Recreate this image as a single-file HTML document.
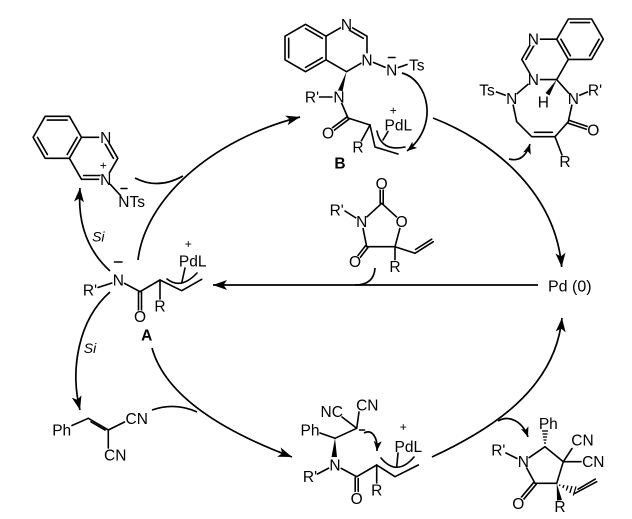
<!DOCTYPE html>
<html><head><meta charset="utf-8"><style>
html,body{margin:0;padding:0;background:#fff;}
svg{display:block;}
text{font-family:"Liberation Sans",Arial,sans-serif;font-size:15.5px;fill:#000;}
.p{font-size:12px;}
.b{font-weight:bold;}
.i{font-style:italic;font-size:14px;}
</style></head><body>
<svg width="632" height="519" viewBox="0 0 632 519" xmlns="http://www.w3.org/2000/svg">
<defs>
<marker id="a" markerUnits="userSpaceOnUse" markerWidth="16" markerHeight="12" refX="14" refY="5" orient="auto"><path d="M0,0 L14,5 L0,10 L3.5,5 Z" fill="#000" stroke="none"/></marker>
<marker id="s" markerUnits="userSpaceOnUse" markerWidth="12" markerHeight="10" refX="10" refY="4" orient="auto"><path d="M0,0 L10,4 L0,8 L2.5,4 Z" fill="#000" stroke="none"/></marker>
</defs>

<!-- bonds -->
<g stroke="#000" stroke-width="1.6" fill="none" stroke-linecap="round" stroke-linejoin="round">
<!-- B structure -->
<polygon points="305.5,24.3 326,36.2 326,59.8 305.5,71.7 285,59.8 285,36.2"/>
<polyline points="326,36.2 346.5,24.3 367,36.2 367,59.8 346.5,71.7 326,59.8"/>
<line x1="305.5" y1="28.6" x2="322.3" y2="38.3"/>
<line x1="322.3" y1="57.7" x2="305.5" y2="67.4"/>
<line x1="288.7" y1="57.7" x2="288.7" y2="38.3"/>
<line x1="346.5" y1="28.6" x2="363.3" y2="38.3"/>
<line x1="367" y1="59.8" x2="391.7" y2="70"/>
<line x1="397" y1="68" x2="407" y2="64.5"/>
<line x1="388.5" y1="57.5" x2="395" y2="57.5"/>
<line x1="319.5" y1="97" x2="333" y2="97"/>
<line x1="339" y1="97" x2="348" y2="118"/>
<line x1="347.1" y1="116.8" x2="327.1" y2="131.8"/>
<line x1="348.9" y1="119.2" x2="328.9" y2="134.2"/>
<line x1="348" y1="118" x2="370" y2="125"/>
<line x1="370" y1="125" x2="358" y2="147"/>
<polyline points="370,125 375,147 398,154"/>
<path d="M377,131 Q381,152 405,147"/>
<line x1="388" y1="131.5" x2="383" y2="140"/>

<!-- right medium ring product -->
<polygon points="556.7,39.2 568.35,19 591.65,19 603.3,39.2 591.65,59.4 568.35,59.4"/>
<line x1="570.4" y1="22.6" x2="589.6" y2="22.6"/>
<line x1="599.1" y1="39.2" x2="589.6" y2="55.8"/>
<line x1="570.4" y1="55.8" x2="560.9" y2="39.2"/>
<polyline points="556.7,39.2 533.4,39.2 521.75,59.4 533.4,79.6 556.7,79.6 568.35,59.4"/>
<line x1="535.5" y1="42.8" x2="525.9" y2="59.4"/>
<line x1="556.7" y1="79.6" x2="573.3" y2="98.3"/>
<line x1="579" y1="95.5" x2="587.5" y2="92"/>
<line x1="533.4" y1="79.6" x2="511.7" y2="98.3"/>
<line x1="496.5" y1="92" x2="506" y2="95.5"/>
<polyline points="511.7,98.3 516.7,121.7 531.7,136.7 555,136.7 568.3,121.7 573.3,98.3"/>
<line x1="534.5" y1="132.3" x2="552.5" y2="132.3"/>
<line x1="568.8" y1="120.3" x2="593.8" y2="128.6"/>
<line x1="567.8" y1="123.1" x2="592.8" y2="131.4"/>
<line x1="555" y1="136.7" x2="562" y2="155"/>

<!-- oxazolidinedione -->
<line x1="380.2" y1="184" x2="380.2" y2="203.3"/>
<line x1="383.2" y1="184" x2="383.2" y2="203.3"/>
<polyline points="361.7,221.7 381.7,203.3 401.7,221.7"/>
<polyline points="361.7,221.7 366.7,246.7 395,246.7 401.7,221.7"/>
<line x1="345" y1="211" x2="356" y2="218"/>
<line x1="367.9" y1="247.6" x2="356.2" y2="262.6"/>
<line x1="365.5" y1="245.8" x2="353.8" y2="260.8"/>
<line x1="395" y1="246.7" x2="395" y2="262"/>
<polyline points="395,246.7 415,253.3 433.3,241.7"/>
<line x1="415.5" y1="249.5" x2="431.7" y2="239.2"/>

<!-- A -->
<line x1="114.5" y1="262" x2="122" y2="262"/>
<line x1="98" y1="287.5" x2="112" y2="283"/>
<line x1="118.3" y1="280" x2="140" y2="291.7"/>
<line x1="138.5" y1="292" x2="138.5" y2="316"/>
<line x1="141.5" y1="292" x2="141.5" y2="316"/>
<line x1="140" y1="291.7" x2="160" y2="280"/>
<line x1="160" y1="280" x2="160" y2="302"/>
<polyline points="160,280 181.7,290.7 201.7,279.3"/>
<path d="M167,279 Q181,290 197,273"/>
<line x1="185" y1="268" x2="181.7" y2="283"/>

<!-- quinazolinium -->
<polygon points="33.1,137.3 45.2,116.3 69.4,116.3 81.5,137.3 69.4,158.3 45.2,158.3"/>
<line x1="47.3" y1="120.1" x2="67.2" y2="120.1"/>
<line x1="77.1" y1="137.3" x2="67.2" y2="154.5"/>
<line x1="47.4" y1="154.5" x2="37.5" y2="137.3"/>
<polyline points="81.5,137.3 105.7,137.3 117.8,158.3 105.7,179.3 81.5,179.3 69.4,158.3"/>
<line x1="103.5" y1="141.1" x2="113.4" y2="158.3"/>
<line x1="103.5" y1="175.5" x2="83.7" y2="175.5"/>
<line x1="105.7" y1="179.3" x2="120.5" y2="195.5"/>
<line x1="121" y1="188.5" x2="127" y2="188.5"/>

<!-- benzylidene malononitrile -->
<line x1="72" y1="425.5" x2="88.3" y2="418.3"/>
<line x1="88.3" y1="418.3" x2="108.3" y2="430"/>
<line x1="91" y1="421.8" x2="105" y2="430"/>
<line x1="108.3" y1="430" x2="124.5" y2="422"/>
<line x1="108.3" y1="430" x2="108.3" y2="448"/>

<!-- bottom centre -->
<line x1="342" y1="417" x2="356.7" y2="428.3"/>
<line x1="359" y1="412" x2="356.7" y2="428.3"/>
<line x1="359.5" y1="430" x2="364.5" y2="430"/>
<line x1="320" y1="433" x2="335" y2="438.3"/>
<line x1="335" y1="438.3" x2="356.7" y2="428.3"/>
<line x1="317.5" y1="474" x2="329" y2="468"/>
<line x1="335" y1="465" x2="356.7" y2="476.7"/>
<line x1="355.2" y1="477.5" x2="355.2" y2="495"/>
<line x1="358.2" y1="478.5" x2="358.2" y2="495"/>
<line x1="356.7" y1="476.7" x2="376.7" y2="465"/>
<line x1="376.7" y1="465" x2="376.7" y2="484"/>
<polyline points="376.7,465 395,476.7 418.3,465"/>
<path d="M381,458 Q397,477 414,457"/>
<line x1="398" y1="453" x2="396.7" y2="467"/>

<!-- pyrrolidinone -->
<polyline points="523.3,461.7 545,446.7 563.3,461.7 556.7,483.3 535,483.3 523.3,461.7"/>
<line x1="563.3" y1="461.7" x2="572" y2="448.5"/>
<line x1="563.3" y1="461.7" x2="581" y2="461.7"/>
<line x1="506" y1="453" x2="517" y2="458.5"/>
<line x1="536.2" y1="484.3" x2="519.5" y2="504.3"/>
<line x1="533.8" y1="482.3" x2="517.1" y2="502.3"/>
<line x1="575" y1="493.3" x2="596.7" y2="481.7"/>
<line x1="578" y1="489.2" x2="595.3" y2="479.1"/>
</g>

<!-- wedges / hashes -->
<g fill="#000" stroke="none">
<polygon points="346.5,71.7 337,92.5 342,94"/>
<polygon points="556.7,79.6 545.5,93 549.5,95.5"/>
<polygon points="335,438.3 331.5,457 337,457"/>
<polygon points="556.7,483.3 557,500.5 562,500"/>
</g>
<g stroke="#000" stroke-width="1.3">
<line x1="544" y1="443" x2="546" y2="443"/>
<line x1="543.5" y1="440" x2="546.5" y2="440"/>
<line x1="543" y1="437" x2="547" y2="437"/>
<line x1="542.5" y1="434" x2="547.5" y2="434"/>
<line x1="542" y1="431" x2="548" y2="431"/>
<line x1="560" y1="484.5" x2="559.5" y2="486"/>
<line x1="564" y1="485" x2="562.8" y2="488"/>
<line x1="568" y1="485.5" x2="566.3" y2="490.5"/>
<line x1="572" y1="486" x2="569.8" y2="493"/>
<line x1="576" y1="486.5" x2="573.3" y2="495.5"/>
</g>

<!-- masks -->
<g fill="#fff">
<circle cx="346.5" cy="24.3" r="6.5"/><circle cx="367" cy="59.8" r="6.5"/><circle cx="391.7" cy="70" r="6.5"/>
<circle cx="339" cy="97" r="6.5"/><circle cx="328" cy="133" r="6.5"/><circle cx="358" cy="147" r="6.5"/>
<circle cx="533.4" cy="39.2" r="6.5"/><circle cx="533.4" cy="79.6" r="6.5"/><circle cx="573.3" cy="98.3" r="6.5"/>
<circle cx="511.7" cy="98.3" r="6.5"/><circle cx="593.3" cy="130" r="6.5"/><circle cx="565" cy="161.7" r="6.5"/>
<circle cx="381.7" cy="183.3" r="6.5"/><circle cx="361.7" cy="221.7" r="6.5"/><circle cx="401.7" cy="221.7" r="6.5"/>
<circle cx="355" cy="261.7" r="6.5"/><circle cx="395" cy="266.7" r="6.5"/>
<circle cx="118.3" cy="280" r="6.5"/><circle cx="140" cy="316.7" r="6.5"/><circle cx="160" cy="306" r="6.5"/>
<circle cx="105.7" cy="137.3" r="6.5"/><circle cx="105.7" cy="179.3" r="6.5"/>
<circle cx="335" cy="465" r="6.5"/><circle cx="356.7" cy="498.3" r="6.5"/><circle cx="376.7" cy="490" r="6.5"/>
<circle cx="523.3" cy="461.7" r="6.5"/><circle cx="518.3" cy="503.3" r="6.5"/>
</g>

<!-- reaction arrows -->
<g stroke="#000" stroke-width="1.7" fill="none">
<path d="M138,260 C145,200 210,140 300,117" marker-end="url(#a)"/>
<path d="M135,178 Q158,190 183,176"/>
<path d="M433,118 C490,140 555,190 561.7,267" marker-end="url(#a)"/>
<path d="M509,159 Q524,163 530,144" marker-end="url(#s)"/>
<path d="M402,73 C428,80 440,125 407,151" marker-end="url(#s)"/>
<path d="M538,285 L213,285" marker-end="url(#a)"/>
<path d="M375,268 Q374,285 355,285"/>
<path d="M110,271 Q76,240 80,188" marker-end="url(#a)"/>
<path d="M110,292 C78,320 70,370 80,410" marker-end="url(#a)"/>
<path d="M152,348 C165,395 220,430 292,457" marker-end="url(#a)"/>
<path d="M152,410 Q175,402 197,412"/>
<path d="M432,457 C490,430 555,390 562,318" marker-end="url(#a)"/>
<path d="M498,421 C508,415 522,420 528,437" marker-end="url(#s)"/>
<path d="M364,433 C372,429 378,437 377,451" marker-end="url(#s)"/>
</g>

<!-- labels -->
<g text-anchor="middle">
<!-- B -->
<text x="346.5" y="29.8">N</text>
<text x="367" y="65.3">N</text>
<text x="391.7" y="75.5">N</text>
<text x="416.7" y="70.5">Ts</text>
<text x="339" y="102.5">N</text>
<text x="312" y="102.5">R'</text>
<text x="328" y="138.5">O</text>
<text x="358" y="152.5">R</text>
<text x="398.3" y="130.5">PdL</text>
<text class="p" x="393.3" y="114.5">+</text>
<text class="b" x="340" y="168.5">B</text>
<!-- right product -->
<text x="533.4" y="44.7">N</text>
<text x="533.4" y="85.1">N</text>
<text x="573.3" y="103.8">N</text>
<text x="595" y="95.5">R'</text>
<text x="543.3" y="107.5">H</text>
<text x="511.7" y="103.8">N</text>
<text x="487" y="95.5">Ts</text>
<text x="593.3" y="135.5">O</text>
<text x="565" y="167.2">R</text>
<!-- oxazolidinedione -->
<text x="381.7" y="188.8">O</text>
<text x="361.7" y="227.2">N</text>
<text x="336.7" y="215.5">R'</text>
<text x="401.7" y="227.2">O</text>
<text x="355" y="267.2">O</text>
<text x="395" y="272.2">R</text>
<!-- A -->
<text x="118.3" y="285.5">N</text>
<text x="90" y="295.5">R'</text>
<text x="140" y="322.2">O</text>
<text x="160" y="311.5">R</text>
<text x="192.7" y="266.5">PdL</text>
<text class="p" x="188.3" y="247.8">+</text>
<text class="b" x="146.7" y="340.5">A</text>
<text class="i" x="98.3" y="241.5">Si</text>
<text class="i" x="90" y="353">Si</text>
<!-- quinazolinium -->
<text x="105.7" y="142.8">N</text>
<text x="105.7" y="184.8">N</text>
<text class="p" x="103.3" y="169.5">+</text>
<!-- malononitrile -->
<text x="61.7" y="435.5">Ph</text>
<text x="136.7" y="423.8">CN</text>
<text x="115.2" y="460.5">CN</text>
<!-- bottom centre -->
<text x="331.7" y="417.2">NC</text>
<text x="367.3" y="410.5">CN</text>
<text x="310" y="435.5">Ph</text>
<text x="335" y="470.5">N</text>
<text x="310" y="482.2">R'</text>
<text x="356.7" y="503.8">O</text>
<text x="376.7" y="495.5">R</text>
<text x="408.3" y="452.2">PdL</text>
<text class="p" x="403.3" y="431.2">+</text>
<!-- pyrrolidinone -->
<text x="548.3" y="428.8">Ph</text>
<text x="582.5" y="445.5">CN</text>
<text x="593.3" y="467.2">CN</text>
<text x="523.3" y="467.2">N</text>
<text x="498.3" y="455.5">R'</text>
<text x="518.3" y="508.8">O</text>
<text x="560" y="512.2">R</text>
</g>
<text x="118.3" y="207">NTs</text>
<text x="548" y="291.5" style="font-size:16px">Pd (0)</text>
</svg>
</body></html>
